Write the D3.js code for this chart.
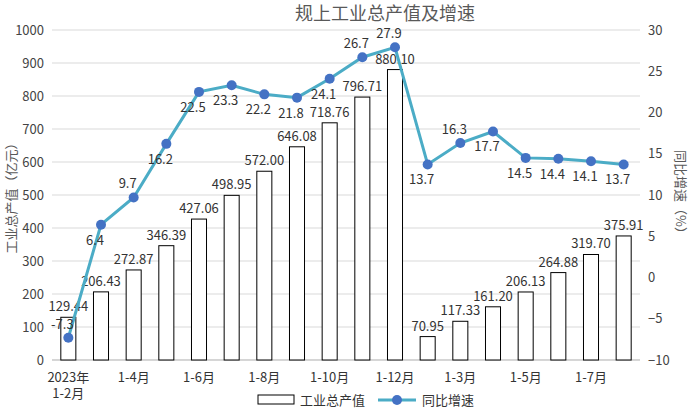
<!DOCTYPE html>
<html>
<head>
<meta charset="utf-8">
<script src="https://cdn.jsdelivr.net/npm/d3@7"></script>
<style>
body { margin: 0; background: #fff; }
text { font-family: "Noto Sans CJK SC", sans-serif; }
</style>
</head>
<body>
<div id="chart"></div>
<script>
var categories = ["1-2月", "1-3月", "1-4月", "1-5月", "1-6月", "1-7月", "1-8月", "1-9月", "1-10月", "1-11月", "1-12月",
  "2024-1-2月", "1-3月b", "1-4月b", "1-5月b", "1-6月b", "1-7月b", "1-8月b"];
var tickLabels = ["2023年|1-2月", "", "1-4月", "", "1-6月", "", "1-8月", "", "1-10月", "", "1-12月", "", "1-3月", "", "1-5月", "", "1-7月", ""];
var output = [129.44, 206.43, 272.87, 346.39, 427.06, 498.95, 572.00, 646.08, 718.76, 796.71, 880.10,
  70.95, 117.33, 161.20, 206.13, 264.88, 319.70, 375.91];
var growth = [-7.3, 6.4, 9.7, 16.2, 22.5, 23.3, 22.2, 21.8, 24.1, 26.7, 27.9, 13.7, 16.3, 17.7, 14.5, 14.4, 14.1, 13.7];
var labelAbove = [1, 0, 1, 0, 0, 0, 0, 0, 0, 1, 1, 0, 1, 0, 0, 0, 0, 0];

var svgWidth = 692, svgHeight = 414;
var margin = { top: 30, right: 52, bottom: 54, left: 52 };
var width = svgWidth - margin.left - margin.right;
var height = svgHeight - margin.top - margin.bottom;

var svg = d3.select("#chart").append("svg")
  .attr("width", svgWidth).attr("height", svgHeight);
var g = svg.append("g").attr("transform", `translate(${margin.left}, ${margin.top})`);

var x = d3.scaleBand().domain(categories).range([0, width]).paddingInner(0.54).paddingOuter(0.27);
var yL = d3.scaleLinear().domain([0, 1000]).range([height, 0]);
var yR = d3.scaleLinear().domain([-10, 30]).range([height, 0]);

// grid
g.selectAll(".grid").data(yL.ticks(10)).enter().append("line")
  .attr("x1", 0).attr("x2", width)
  .attr("y1", d => yL(d)).attr("y2", d => yL(d))
  .attr("stroke", "#d9d9d9");

var left = g.append("g").call(d3.axisLeft(yL).ticks(10).tickFormat(d3.format("d")).tickSize(0).tickPadding(8));
left.select(".domain").remove();
left.selectAll("text").attr("font-size", 13).attr("fill", "#444");
var right = g.append("g").attr("transform", `translate(${width},0)`)
  .call(d3.axisRight(yR).ticks(8).tickSize(0).tickPadding(8));
right.select(".domain").remove();
right.selectAll("text").attr("font-size", 13).attr("fill", "#444");

g.append("line").attr("x1", 0).attr("x2", width).attr("y1", height).attr("y2", height).attr("stroke", "#bfbfbf");

// x labels
var xl = g.selectAll(".xl").data(categories).enter().append("text")
  .attr("x", d => x(d) + x.bandwidth() / 2).attr("y", height + 22)
  .attr("text-anchor", "middle").attr("font-size", 13).attr("fill", "#333");
xl.each(function(d, i) {
  var parts = tickLabels[i].split("|");
  var t = d3.select(this);
  parts.forEach((p, k) => t.append("tspan").attr("x", t.attr("x")).attr("dy", k ? 16 : 0).text(p));
});

// bars
g.selectAll(".bar").data(output).enter().append("rect")
  .attr("x", (d, i) => x(categories[i])).attr("width", x.bandwidth())
  .attr("y", d => yL(d)).attr("height", d => height - yL(d))
  .attr("fill", "#fff").attr("stroke", "#000").attr("stroke-width", 1);
g.selectAll(".bl").data(output).enter().append("text")
  .attr("x", (d, i) => x(categories[i]) + x.bandwidth() / 2).attr("y", d => yL(d) - 6)
  .attr("text-anchor", "middle").attr("font-size", 13).attr("fill", "#333")
  .text(d => d.toFixed(2));

// line
var cx = i => x(categories[i]) + x.bandwidth() / 2;
g.append("path").datum(growth)
  .attr("d", d3.line().x((d, i) => cx(i)).y(d => yR(d)))
  .attr("fill", "none").attr("stroke", "#4bacc6").attr("stroke-width", 3);
g.selectAll(".pt").data(growth).enter().append("circle")
  .attr("cx", (d, i) => cx(i)).attr("cy", d => yR(d)).attr("r", 5)
  .attr("fill", "#4472c4");
g.selectAll(".pl").data(growth).enter().append("text")
  .attr("x", (d, i) => cx(i) - 6)
  .attr("y", (d, i) => yR(d) + (labelAbove[i] ? -9 : 20))
  .attr("text-anchor", "middle").attr("font-size", 13).attr("fill", "#333")
  .text(d => d.toFixed(1));

// titles
svg.append("text").attr("x", 385).attr("y", 20).attr("text-anchor", "middle")
  .attr("font-size", 18).attr("fill", "#595959").text("规上工业总产值及增速");
svg.append("text").attr("transform", `translate(16, ${margin.top + height / 2}) rotate(-90)`)
  .attr("text-anchor", "middle").attr("font-size", 13).attr("fill", "#595959").text("工业总产值（亿元）");
svg.append("text").attr("transform", `translate(676, ${margin.top + height / 2}) rotate(90)`)
  .attr("text-anchor", "middle").attr("font-size", 13).attr("fill", "#595959").text("同比增速（%）");

// legend
var lg = svg.append("g").attr("transform", "translate(258, 400)");
lg.append("rect").attr("x", 0).attr("y", -5).attr("width", 36).attr("height", 9)
  .attr("fill", "#fff").attr("stroke", "#000");
lg.append("text").attr("x", 42).attr("y", 5).attr("font-size", 13).attr("fill", "#333").text("工业总产值");
lg.append("line").attr("x1", 120).attr("x2", 158).attr("y1", 0).attr("y2", 0)
  .attr("stroke", "#4bacc6").attr("stroke-width", 3);
lg.append("circle").attr("cx", 139).attr("cy", 0).attr("r", 5).attr("fill", "#4472c4");
lg.append("text").attr("x", 164).attr("y", 5).attr("font-size", 13).attr("fill", "#333").text("同比增速");
</script>
</body>
</html>
